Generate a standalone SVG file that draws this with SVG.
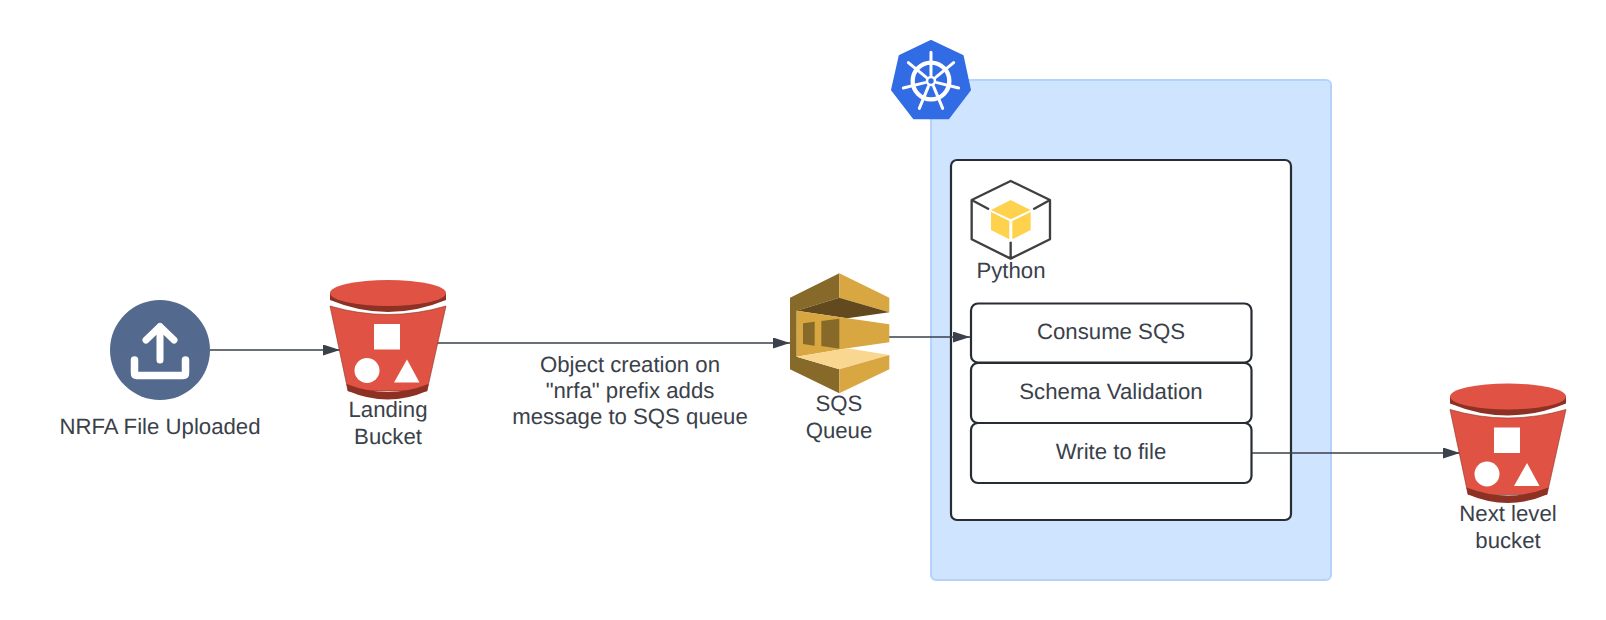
<svg xmlns="http://www.w3.org/2000/svg" width="1606" height="620" viewBox="0 0 1606 620">
<style>
text{font-family:"Liberation Sans",Arial,sans-serif;font-size:22.2px;fill:#3a414a;text-anchor:middle;text-rendering:geometricPrecision}
.conn{fill:none;stroke:#3a414a;stroke-width:1.3}
.box{fill:#fff;stroke:#282c33;stroke-width:2.2}
.w{fill:#fff}
</style>
<defs>
<marker id="arrow" markerUnits="userSpaceOnUse" markerWidth="18" markerHeight="12" refX="17" refY="5.500" orient="auto"><path d="M0 0L17 5.500L0 11Z" fill="#3a414a"/></marker>
<g id="bucket">
<path d="M330 306Q388 323 446 306L427 391H348Z" fill="#e05243" stroke="#8c3123" stroke-width=".6"/>
<path d="M346.500 384Q388 400 428.500 384L427 391Q388 408 348 391Z" fill="#8c3123"/>
<path d="M330 293V300Q388 324 446 300V293Z" fill="#8c3123"/>
<ellipse cx="388" cy="293" rx="58" ry="13" fill="#e05243"/>
<rect class="w" x="374" y="324" width="26" height="25.500"/>
<circle class="w" cx="367" cy="370.500" r="12.500"/>
<path class="w" d="M407 359.500L419.500 382.500H394Z"/>
</g>
</defs>
<rect id="k8s-cluster" x="931" y="80" width="400" height="500" rx="5" fill="#cfe4ff" stroke="#b3d3fb" stroke-width="2"/>
<g id="k8s-logo" transform="translate(880 30) scale(.3333)">
<path d="M153 33L248 78L270 180L205 265H102L36 180L59 78Z" fill="#326ce5" stroke="#326ce5" stroke-width="6" stroke-linejoin="round"/>
<circle cx="153" cy="153" r="55" fill="none" stroke="#fff" stroke-width="13"/>
<g stroke="#fff" stroke-width="9" stroke-linecap="round">
<path d="M153 67V135M85 98L139 142M70 174L135 158M118 235L145 170M188 235L161 170M236 174L171 158M221 98L167 142"/>
</g>
<circle cx="153" cy="153" r="16" fill="#fff"/>
<circle cx="153" cy="153" r="8" fill="#326ce5"/>
</g>
<g id="python-container"><rect class="box" x="951" y="160" width="340" height="360" rx="6"/></g>
<g id="python-icon" transform="translate(940 150) scale(.3333)">
<path d="M212 93L330 150V268L212 326L95 268V150ZM95 150L147 178M330 150L280 178M212 326V275" fill="none" stroke="#3f3f3f" stroke-width="7" stroke-linejoin="round"/>
<path d="M212 150L272 180L212 208L153 180Z" fill="#ffd24d"/>
<path d="M153 186L208 213V268L153 240Z" fill="#ffd24d"/>
<path d="M272 186L217 213V268L272 240Z" fill="#ffd24d"/>
</g>
<text x="1011" y="278">Python</text>
<g id="consume-sqs"><rect class="box" x="971" y="303.500" width="280.500" height="59" rx="7"/><text x="1111" y="339">Consume SQS</text></g>
<g id="schema-validation"><rect class="box" x="971" y="363" width="280.500" height="60" rx="7"/><text x="1111" y="399">Schema Validation</text></g>
<g id="write-to-file"><rect class="box" x="971" y="423" width="280.500" height="60" rx="7"/><text x="1111" y="459">Write to file</text></g>
<g id="connectors">
<path class="conn" d="M210 350H340" marker-end="url(#arrow)"/>
<path class="conn" d="M437 343H790" marker-end="url(#arrow)"/>
<path class="conn" d="M889 337H970" marker-end="url(#arrow)"/>
<path class="conn" d="M1252 453H1460" marker-end="url(#arrow)"/>
</g>
<g id="upload-node">
<circle cx="160" cy="350" r="50" fill="#54698e"/>
<path d="M160 360V326.500M146 340L160 326.500L174 340" fill="none" stroke="#fff" stroke-width="7" stroke-linecap="round" stroke-linejoin="round"/>
<path d="M134.500 360V373Q134.500 375.500 137 375.500H183Q185.500 375.500 185.500 373V360" fill="none" stroke="#fff" stroke-width="7.500" stroke-linecap="round" stroke-linejoin="round"/>
<text x="160" y="434">NRFA File Uploaded</text>
</g>
<g id="landing-bucket">
<use href="#bucket"/>
<text x="388" y="417">Landing</text>
<text x="388" y="444">Bucket</text>
</g>
<g id="edge-label">
<text x="630" y="372">Object creation on</text>
<text x="630" y="398">"nrfa" prefix adds</text>
<text x="630" y="424">message to SQS queue</text>
</g>
<g id="sqs-queue">
<g transform="translate(770 260) scale(.3333)">
<path d="M60 113L208 40V113L80 152V290L208 328V400L60 328Z" fill="#876929"/>
<path d="M208 40L358 113V157L208 113Z" fill="#d9a741"/>
<path d="M208 113L358 157L232 175L80 152Z" fill="#624a1e"/>
<path d="M80 152L232 175L358 193V247L232 265L80 290Z" fill="#d9a741"/>
<path d="M80 290L232 265L358 285L208 328Z" fill="#fad791"/>
<path d="M208 328L358 285V328L208 400Z" fill="#d9a741"/>
<path d="M99 190L134 185V257L99 252Z M154 183L208 176V266L154 258Z" fill="#876929"/>
</g>
<text x="839" y="411">SQS</text>
<text x="839" y="438">Queue</text>
</g>
<g id="next-level-bucket">
<use href="#bucket" transform="translate(1120 103.500)"/>
<text x="1508" y="521">Next level</text>
<text x="1508" y="548">bucket</text>
</g>
</svg>
